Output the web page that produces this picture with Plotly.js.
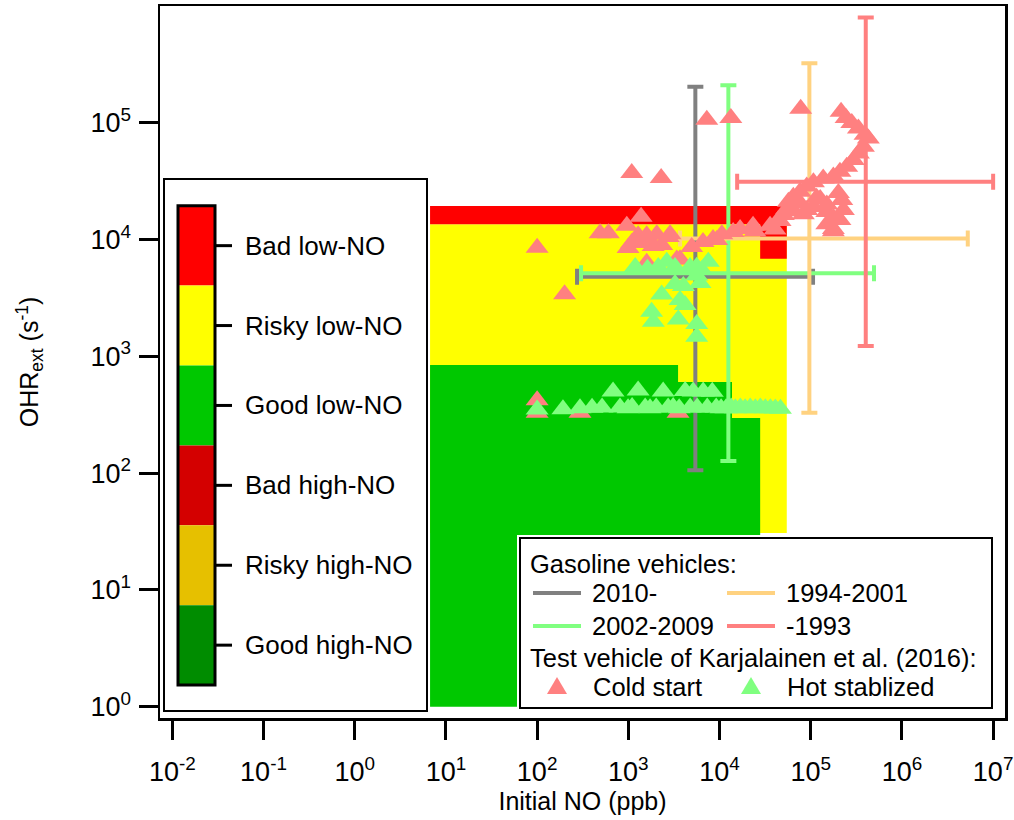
<!DOCTYPE html>
<html><head><meta charset="utf-8">
<script src="https://cdn.plot.ly/plotly-3.0.1.min.js"></script>
<style>body{margin:0;padding:0;background:#fff;} #chart{width:1014px;height:820px;}</style>
</head><body><div id="chart"></div>
<script>
// ---------- data ----------
const xTickVals = [1e-2, 1e-1, 1e0, 1e1, 1e2, 1e3, 1e4, 1e5, 1e6, 1e7];
const xTickText = ['10<sup>-2</sup>','10<sup>-1</sup>','10<sup>0</sup>','10<sup>1</sup>','10<sup>2</sup>','10<sup>3</sup>','10<sup>4</sup>','10<sup>5</sup>','10<sup>6</sup>','10<sup>7</sup>'];
const yTickVals = [1e0, 1e1, 1e2, 1e3, 1e4, 1e5];
const yTickText = ['10<sup>0</sup>','10<sup>1</sup>','10<sup>2</sup>','10<sup>3</sup>','10<sup>4</sup>','10<sup>5</sup>'];

// regime regions (Initial NO in ppb, OHRext in s-1)
const riskyLowX = [6.7, 54600, 54600, 6.7];
const riskyLowY = [30.7, 30.7, 13500, 13500];
const goodLowX = [6.7, 6.7, 3510, 3510, 13700, 13700, 27900, 27900];
const goodLowY = [1, 843, 843, 603, 603, 296, 296, 1];
const badLowX = [6.7, 6.7, 54600, 54600, 27900, 27900];
const badLowY = [13500, 19400, 19400, 6850, 6850, 13500];

// gasoline vehicle classes: centre and ranges
const vehNames = ['2010-', '2002-2009', '1994-2001', '-1993'];
const vehColors = ['#808080', '#80FF80', '#FFD280', '#FF8080'];
const vehX = [5430, 12500, 96600, 401000];
const vehY = [4800, 5140, 10200, 31300];
const vehXLow = [274, 303, 3690, 15600];
const vehXHigh = [106000, 494000, 5270000, 10000000];
const vehYLow = [106, 127, 329, 1225];
const vehYHigh = [203000, 210000, 323000, 798000];

// Karjalainen et al. (2016) test vehicle
const coldX = [100, 200, 1090, 2290, 7250, 13300, 77600, 215000,
  100, 100, 295, 3510,
  490, 604, 962, 1380, 993, 1280, 1590, 2050, 2870, 1870, 1340, 1590, 3400, 1640, 2740, 2320, 3690, 1090,
  4950, 6590, 8490, 10600, 14100, 16800, 23300, 35800, 46100, 59300, 40600, 24500, 9310, 44200, 50100,
  54600, 56900, 64400, 76400, 90400, 107000, 137000, 177000, 209000, 248000, 293000, 333000, 378000, 428000, 394000, 333000, 282000, 244000,
  201000, 219000, 228000, 209000, 177000, 150000, 127000, 107000, 90400, 76400, 64400, 116000, 150000, 83000, 177000, 177000, 150000];
const coldY = [8500, 3400, 37200, 33600, 106000, 110000, 132000, 124000,
  420, 328, 328, 328,
  11300, 11300, 13100, 15700, 8460, 10900, 10900, 11100, 11100, 8800, 9330, 6330, 6760, 10300, 10500, 8980, 6790, 9330,
  8630, 9520, 10100, 11100, 11600, 12300, 13100, 13100, 14400, 17500, 12200, 11700, 9910, 14700, 16200,
  18300, 21100, 23300, 25700, 28400, 31000, 33400, 34600, 38100, 42000, 48000, 54700, 62400, 73500, 79100, 89500, 99800, 110000,
  25000, 21800, 17900, 14700, 12300, 17200, 22200, 19000, 17900, 20600, 17900, 22800, 20000, 16500, 15300, 11800, 13500];
const hotX = [100, 192, 295, 400, 515, 680, 811, 993, 1100, 1280, 1530, 1730, 2020, 2410, 2730, 3100, 3610, 4200, 4760, 5140,
  5690, 6620, 7330, 8320, 9190, 10400, 11800, 13400, 14900, 16900, 19100, 21700, 24700, 28000, 31800, 36100, 40900, 46500,
  1190, 1620, 2130, 2640, 3250, 4750, 5620, 7530, 6380, 2320, 3250, 4010, 5620, 6110, 3690, 1800, 1880, 3530, 5620, 5620, 4190];
const hotY = [351, 352, 360, 362, 365, 500, 365, 360, 368, 510, 365, 360, 364, 500, 365, 368, 360, 505, 365, 500,
  365, 500, 365, 498, 365, 360, 360, 365, 360, 365, 360, 365, 360, 365, 360, 360, 358, 355,
  5820, 5620, 5820, 6460, 5830, 5820, 5850, 6460, 5480, 3390, 4160, 4000, 4920, 4240, 3030, 2410, 1980, 2070, 1890, 1470, 2750];

const regimeLabels = ['Bad low-NO','Risky low-NO','Good low-NO','Bad high-NO','Risky high-NO','Good high-NO'];
const regimeColors = ['#FF0000','#FFFF00','#00C800','#D40000','#E6C000','#008C00'];
const markerNames = ['Cold start', 'Hot stablized'];
const markerColors = ['#FF8080', '#80FF80'];

// ---------- layout helpers (pixel -> paper) ----------
const W = 1014, H = 820, ML = 160, MR = 9, MT = 6, MB = 102;
const PW = W - ML - MR, PH = H - MT - MB;
const fx = px => (px - ML) / PW;
const fy = py => (H - MB - py) / PH;
const FONT = 'Liberation Sans, Arial, sans-serif';

// ---------- traces ----------
const traces = [];
function region(x, y, c) {
  traces.push({x: x, y: y, type: 'scatter', mode: 'lines', fill: 'toself', fillcolor: c,
    line: {width: 0, color: c}, hoverinfo: 'skip', showlegend: false});
}
region(riskyLowX, riskyLowY, regimeColors[1]);
region(goodLowX, goodLowY, regimeColors[2]);
region(badLowX, badLowY, regimeColors[0]);

vehNames.forEach((n, i) => {
  traces.push({
    x: [vehX[i]], y: [vehY[i]], type: 'scatter', mode: 'markers', name: n,
    marker: {size: 1, opacity: 0, color: vehColors[i]}, showlegend: false,
    error_x: {type: 'data', symmetric: false, array: [vehXHigh[i] - vehX[i]], arrayminus: [vehX[i] - vehXLow[i]],
      color: vehColors[i], thickness: 4, width: 8},
    error_y: {type: 'data', symmetric: false, array: [vehYHigh[i] - vehY[i]], arrayminus: [vehY[i] - vehYLow[i]],
      color: vehColors[i], thickness: 4, width: 8}
  });
});

traces.push({x: coldX, y: coldY, type: 'scatter', mode: 'markers', name: markerNames[0], showlegend: false,
  marker: {symbol: 'triangle-up', size: 20, color: markerColors[0], line: {width: 0}}});
traces.push({x: hotX, y: hotY, type: 'scatter', mode: 'markers', name: markerNames[1], showlegend: false,
  marker: {symbol: 'triangle-up', size: 20, color: markerColors[1], line: {width: 0}}});

// ---------- legends (shapes + annotations in paper coords) ----------
const shapes = [];
const annotations = [];
function rectPx(x0, y0, x1, y1, fill, lc, lw) {
  shapes.push({type: 'rect', xref: 'paper', yref: 'paper', x0: fx(x0), x1: fx(x1), y0: fy(y1), y1: fy(y0),
    fillcolor: fill, line: {color: lc, width: lw}, layer: 'above'});
}
function linePx(x0, y0, x1, y1, c, w) {
  shapes.push({type: 'line', xref: 'paper', yref: 'paper', x0: fx(x0), x1: fx(x1), y0: fy(y0), y1: fy(y1),
    line: {color: c, width: w}, layer: 'above'});
}
function textPx(x, y, t, size) {
  annotations.push({xref: 'paper', yref: 'paper', x: fx(x), y: fy(y), text: t, showarrow: false,
    xanchor: 'left', yanchor: 'middle', font: {family: FONT, size: size, color: '#000'}});
}
function triPx(cx, cy, c) {
  const p = `M${fx(cx - 10)},${fy(cy + 8)} L${fx(cx + 10)},${fy(cy + 8)} L${fx(cx)},${fy(cy - 9)} Z`;
  shapes.push({type: 'path', xref: 'paper', yref: 'paper', path: p, fillcolor: c, line: {width: 0}, layer: 'above'});
}

// regime colour key
rectPx(161, 175, 430, 715, '#FFFFFF', 'rgba(0,0,0,0)', 0);
rectPx(164, 179, 427, 711, '#FFFFFF', '#000000', 2);
const cbTop = 205.7, cbSeg = 79.9;
regimeLabels.forEach((lab, i) => {
  const y0 = cbTop + i * cbSeg, y1 = y0 + cbSeg;
  rectPx(178, y0, 215, y1, regimeColors[i], 'rgba(0,0,0,0)', 0);
  const yc = (y0 + y1) / 2;
  linePx(215, yc, 232, yc, '#000', 3);
  textPx(243, yc, lab, 26);
});
rectPx(178, cbTop, 215, cbTop + 6 * cbSeg, 'rgba(0,0,0,0)', '#000000', 3);

// vehicle legend
rectPx(517, 535, 995, 711, '#FFFFFF', 'rgba(0,0,0,0)', 0);
rectPx(520, 538, 992, 708, '#FFFFFF', '#000000', 2);
textPx(528, 564, 'Gasoline vehicles:', 25.5);
const legCols = [533, 727];
const legRows = [593, 626];
const legOrder = [0, 2, 1, 3]; // 2010-, 1994-2001 / 2002-2009, -1993
legOrder.forEach((vi, k) => {
  const col = legCols[k % 2], row = legRows[Math.floor(k / 2)];
  linePx(col, row, col + 48, row, vehColors[vi], 4);
  textPx(col + 57, row, vehNames[vi], 25.5);
});
textPx(528, 658, 'Test vehicle of Karjalainen et al. (2016):', 25.5);
markerNames.forEach((n, k) => {
  const cx = k === 0 ? 557 : 751;
  triPx(cx, 686, markerColors[k]);
  textPx(cx + 34, 687, n, 25.5);
});

const layout = {
  width: W, height: H,
  margin: {l: ML, r: MR, t: MT, b: MB, pad: 0},
  paper_bgcolor: '#fff', plot_bgcolor: '#fff',
  showlegend: false,
  font: {family: FONT, color: '#000'},
  xaxis: {
    type: 'log', range: [-2.135, 7.13], tickmode: 'array', tickvals: xTickVals, ticktext: xTickText,
    ticks: 'outside', ticklen: 19, tickwidth: 3, tickcolor: '#000', ticklabelstandoff: 9,
    showline: true, linecolor: '#000', linewidth: 2.5, mirror: true,
    showgrid: false, zeroline: false, tickfont: {family: FONT, size: 27},
    title: {text: 'Initial NO (ppb)', font: {family: FONT, size: 25}, standoff: 6}
  },
  yaxis: {
    type: 'log', range: [-0.097, 6.0], tickmode: 'array', tickvals: yTickVals, ticktext: yTickText,
    ticks: 'outside', ticklen: 19, tickwidth: 3, tickcolor: '#000', ticklabelstandoff: 2,
    showline: true, linecolor: '#000', linewidth: 2.5, mirror: true,
    showgrid: false, zeroline: false, tickfont: {family: FONT, size: 27},
    title: {text: 'OHR<sub>ext</sub> (s<sup>-1</sup>)', font: {family: FONT, size: 25}, standoff: 45}
  },
  shapes: shapes,
  annotations: annotations
};

Plotly.newPlot('chart', traces, layout, {staticPlot: true, displayModeBar: false});
</script></body></html>
